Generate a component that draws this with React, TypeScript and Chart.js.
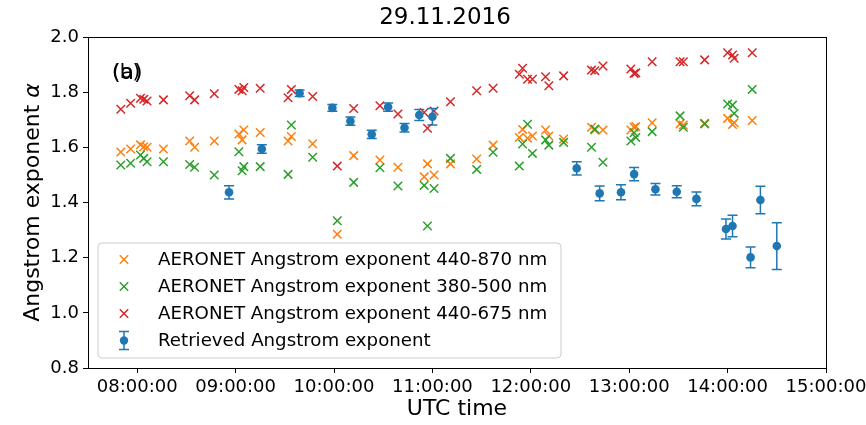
import React, { useEffect, useRef } from "react";
import { Chart, registerables } from "chart.js";

Chart.register(...registerables);

const chartTitle = "29.11.2016";
const xAxisTitle = "UTC time";
const yAxisTitle = "Angstrom exponent ";
const panelLabel = "(b)";
const panelLabelUnder = "(a)";
const xTickHours = [8, 9, 10, 11, 12, 13, 14, 15];

// AERONET measurement times
const aeronetTimes = [
  "07:50", "07:56", "08:02", "08:04", "08:06", "08:16", "08:32", "08:35", "08:47", "09:02",
  "09:04", "09:05", "09:15", "09:32", "09:34", "09:47", "10:02", "10:12", "10:28", "10:39",
  "10:55", "10:57", "11:01", "11:11", "11:27", "11:37", "11:53", "11:55", "11:58", "12:01",
  "12:09", "12:11", "12:20", "12:37", "12:39", "12:44", "13:01", "13:03", "13:04", "13:14",
  "13:31", "13:33", "13:46", "14:00", "14:03", "14:04", "14:15",
];
const ae440_870 = [
  1.583, 1.594, 1.609, 1.602, 1.600, 1.594, 1.623, 1.600, 1.623, 1.648,
  1.627, 1.663, 1.654, 1.623, 1.639, 1.613, 1.285, 1.570, 1.554, 1.528,
  1.493, 1.540, 1.500, 1.540, 1.558, 1.608, 1.636, 1.665, 1.633, 1.641,
  1.663, 1.641, 1.630, 1.673, 1.663, 1.663, 1.663, 1.673, 1.675, 1.689,
  1.685, 1.681, 1.687, 1.705, 1.683, 1.689, 1.697,
];
const ae380_500 = [
  1.536, 1.542, 1.572, 1.560, 1.548, 1.548, 1.538, 1.528, 1.500, 1.584,
  1.515, 1.530, 1.530, 1.502, 1.681, 1.564, 1.334, 1.473, 1.526, 1.460,
  1.462, 1.315, 1.451, 1.560, 1.520, 1.582, 1.532, 1.612, 1.684, 1.578,
  1.627, 1.608, 1.618, 1.600, 1.666, 1.546, 1.623, 1.653, 1.636, 1.657,
  1.714, 1.673, 1.685, 1.757, 1.753, 1.723, 1.810,
];
const ae440_675 = [
  1.738, 1.760, 1.778, 1.774, 1.768, 1.772, 1.787, 1.772, 1.794, 1.810,
  1.805, 1.817, 1.814, 1.780, 1.810, 1.784, 1.532, 1.741, 1.751, 1.721,
  1.726, 1.669, 1.732, 1.765, 1.805, 1.814, 1.865, 1.887, 1.847, 1.847,
  1.856, 1.823, 1.859, 1.880, 1.878, 1.895, 1.884, 1.868, 1.870, 1.910,
  1.910, 1.910, 1.917, 1.943, 1.935, 1.923, 1.943,
];

// Retrieved
const retrievedTimes = [
  "08:56", "09:16", "09:39", "09:59", "10:10", "10:23", "10:33", "10:43", "10:52", "11:00",
  "12:28", "12:42", "12:55", "13:03", "13:16", "13:29", "13:41", "13:59", "14:03", "14:14",
  "14:20", "14:30",
];
const retrievedValues = [
  1.437, 1.594, 1.796, 1.743, 1.695, 1.647, 1.746, 1.671, 1.717, 1.711,
  1.524, 1.433, 1.437, 1.503, 1.448, 1.439, 1.413, 1.304, 1.315, 1.201,
  1.409, 1.242,
];
const retrievedErrors = [
  0.024, 0.015, 0.012, 0.012, 0.015, 0.015, 0.015, 0.015, 0.020, 0.030,
  0.024, 0.027, 0.027, 0.024, 0.021, 0.022, 0.025, 0.036, 0.039, 0.038,
  0.050, 0.085,
];

const legendLabels = [
  "AERONET Angstrom exponent 440-870 nm",
  "AERONET Angstrom exponent 380-500 nm",
  "AERONET Angstrom exponent 440-675 nm",
  "Retrieved Angstrom exponent",
];

const ORANGE = "#ff7f0e";
const GREEN = "#2ca02c";
const RED = "#d62728";
const BLUE = "#1f77b4";
const FONT = "'DejaVu Sans', 'Liberation Sans', sans-serif";

const toHours = (s: string) => {
  const [h, m] = s.split(":").map(Number);
  return h + m / 60;
};
const fmtHour = (v: number) => {
  const h = Math.floor(v);
  return (h < 10 ? "0" : "") + h + ":00:00";
};

const errorBarPlugin = {
  id: "errorBars",
  beforeDatasetDraw(chart: any, args: any) {
    const ds = chart.data.datasets[args.index];
    if (!ds.errors) return;
    const { ctx, scales } = chart;
    const xs = scales.x, ys = scales.y;
    ctx.save();
    ctx.strokeStyle = BLUE;
    ctx.lineWidth = 1.5;
    ds.data.forEach((p: any, i: number) => {
      const e = ds.errors[i];
      const px = xs.getPixelForValue(p.x);
      const y1 = ys.getPixelForValue(p.y - e);
      const y2 = ys.getPixelForValue(p.y + e);
      ctx.beginPath();
      ctx.moveTo(px, y1);
      ctx.lineTo(px, y2);
      ctx.moveTo(px - 5, y1);
      ctx.lineTo(px + 5, y1);
      ctx.moveTo(px - 5, y2);
      ctx.lineTo(px + 5, y2);
      ctx.stroke();
    });
    ctx.restore();
  },
};

const decorPlugin = {
  id: "decor",
  afterDraw(chart: any) {
    const { ctx, chartArea } = chart;
    const { left, right, top, bottom } = chartArea;
    ctx.save();
    // frame
    ctx.strokeStyle = "#000";
    ctx.lineWidth = 1;
    ctx.strokeRect(Math.round(left) + 0.5, Math.round(top) + 0.5, Math.round(right - left), Math.round(bottom - top));

    ctx.fillStyle = "#000";
    ctx.textAlign = "center";
    ctx.textBaseline = "middle";
    ctx.font = `23px ${FONT}`;
    ctx.fillText(chartTitle, 445, 18);
    ctx.font = `22px ${FONT}`;
    ctx.fillText(xAxisTitle, 457, 409);

    // y axis title
    ctx.save();
    ctx.translate(33, (top + bottom) / 2);
    ctx.rotate(-Math.PI / 2);
    ctx.font = `22px ${FONT}`;
    const w1 = ctx.measureText(yAxisTitle).width;
    ctx.font = `italic 22px ${FONT}`;
    const w2 = ctx.measureText("α").width;
    const start = -(w1 + w2) / 2;
    ctx.textAlign = "left";
    ctx.font = `22px ${FONT}`;
    ctx.fillText(yAxisTitle, start, 0);
    ctx.font = `italic 22px ${FONT}`;
    ctx.fillText("α", start + w1, 0);
    ctx.restore();

    // panel label (overlaid)
    ctx.textAlign = "left";
    ctx.font = `22px ${FONT}`;
    ctx.fillText(panelLabelUnder, 112, 73);
    ctx.font = `20px ${FONT}`;
    ctx.fillText(panelLabel, 112, 73);

    // legend
    const lx = 98, ly = 243, lw = 463, lh = 115, r = 4;
    ctx.beginPath();
    ctx.moveTo(lx + r, ly);
    ctx.arcTo(lx + lw, ly, lx + lw, ly + lh, r);
    ctx.arcTo(lx + lw, ly + lh, lx, ly + lh, r);
    ctx.arcTo(lx, ly + lh, lx, ly, r);
    ctx.arcTo(lx, ly, lx + lw, ly, r);
    ctx.closePath();
    ctx.fillStyle = "rgba(255,255,255,0.8)";
    ctx.fill();
    ctx.strokeStyle = "#cccccc";
    ctx.lineWidth = 1;
    ctx.stroke();

    const colors = [ORANGE, GREEN, RED];
    const rowY = [259.5, 286.5, 313.5, 340.5];
    const mx = 124;
    ctx.lineWidth = 1.5;
    for (let i = 0; i < 3; i++) {
      ctx.strokeStyle = colors[i];
      const y = rowY[i];
      ctx.beginPath();
      ctx.moveTo(mx - 4.2, y - 4.2);
      ctx.lineTo(mx + 4.2, y + 4.2);
      ctx.moveTo(mx - 4.2, y + 4.2);
      ctx.lineTo(mx + 4.2, y - 4.2);
      ctx.stroke();
    }
    const by = rowY[3];
    ctx.strokeStyle = BLUE;
    ctx.beginPath();
    ctx.moveTo(mx, by - 9);
    ctx.lineTo(mx, by + 9);
    ctx.moveTo(mx - 5, by - 9);
    ctx.lineTo(mx + 5, by - 9);
    ctx.moveTo(mx - 5, by + 9);
    ctx.lineTo(mx + 5, by + 9);
    ctx.stroke();
    ctx.fillStyle = BLUE;
    ctx.beginPath();
    ctx.arc(mx, by, 4.2, 0, Math.PI * 2);
    ctx.fill();

    ctx.fillStyle = "#000";
    ctx.font = `18.2px ${FONT}`;
    ctx.textAlign = "left";
    ctx.textBaseline = "middle";
    legendLabels.forEach((t, i) => ctx.fillText(t, 158, rowY[i] + 1));
    ctx.restore();
  },
};

export default function App() {
  const ref = useRef<HTMLCanvasElement | null>(null);
  useEffect(() => {
    if (!ref.current) return;
    const mk = (vals: number[]) => aeronetTimes.map((t, i) => ({ x: toHours(t), y: vals[i] }));
    const crossStyle = (c: string, order: number, label: string, vals: number[]) => ({
      label,
      data: mk(vals),
      pointStyle: "crossRot",
      pointRadius: 6,
      pointBorderWidth: 1.5,
      borderColor: c,
      backgroundColor: c,
      order,
    });
    const chart = new Chart(ref.current, {
      type: "scatter",
      data: {
        datasets: [
          {
            label: legendLabels[3],
            data: retrievedTimes.map((t, i) => ({ x: toHours(t), y: retrievedValues[i] })),
            errors: retrievedErrors,
            pointStyle: "circle",
            pointRadius: 4.3,
            pointBorderWidth: 0,
            backgroundColor: BLUE,
            borderColor: BLUE,
            order: 1,
          } as any,
          crossStyle(RED, 2, legendLabels[2], ae440_675),
          crossStyle(GREEN, 3, legendLabels[1], ae380_500),
          crossStyle(ORANGE, 4, legendLabels[0], ae440_870),
        ],
      },
      options: {
        animation: false,
        responsive: false,
        events: [],
        layout: { padding: { left: 0, right: 40, top: 37, bottom: 0 } },
        plugins: { legend: { display: false }, tooltip: { enabled: false }, title: { display: false } },
        scales: {
          x: {
            type: "linear",
            min: 7.5,
            max: 15,
            afterBuildTicks: (scale: any) => {
              scale.ticks = xTickHours.map((v) => ({ value: v }));
            },
            afterFit: (scale: any) => {
              scale.height = 57;
              scale.paddingLeft = 0;
              scale.paddingRight = 0;
            },
            grid: { drawOnChartArea: false, drawTicks: true, tickLength: 5, color: "#000", tickWidth: 1 },
            border: { display: true, color: "#000", width: 1 },
            ticks: {
              autoSkip: false,
              maxRotation: 0,
              padding: 4,
              color: "#000",
              font: { family: FONT, size: 18 },
              callback: (v: any) => fmtHour(Number(v)),
            },
          },
          y: {
            min: 0.8,
            max: 2.0,
            afterFit: (scale: any) => {
              scale.width = 88;
              scale.paddingTop = 0;
              scale.paddingBottom = 0;
            },
            grid: { drawOnChartArea: false, drawTicks: true, tickLength: 5, color: "#000", tickWidth: 1 },
            border: { display: true, color: "#000", width: 1 },
            ticks: {
              stepSize: 0.2,
              padding: 4,
              color: "#000",
              font: { family: FONT, size: 18 },
              callback: (v: any) => Number(v).toFixed(1),
            },
          },
        },
      } as any,
      plugins: [errorBarPlugin, decorPlugin],
    });
    return () => chart.destroy();
  }, []);
  return (
    <div style={{ position: "absolute", left: 0, top: 0, width: 866, height: 425, background: "#fff" }}>
      <canvas ref={ref} width={866} height={425} style={{ display: "block", width: 866, height: 425 }} />
    </div>
  );
}
